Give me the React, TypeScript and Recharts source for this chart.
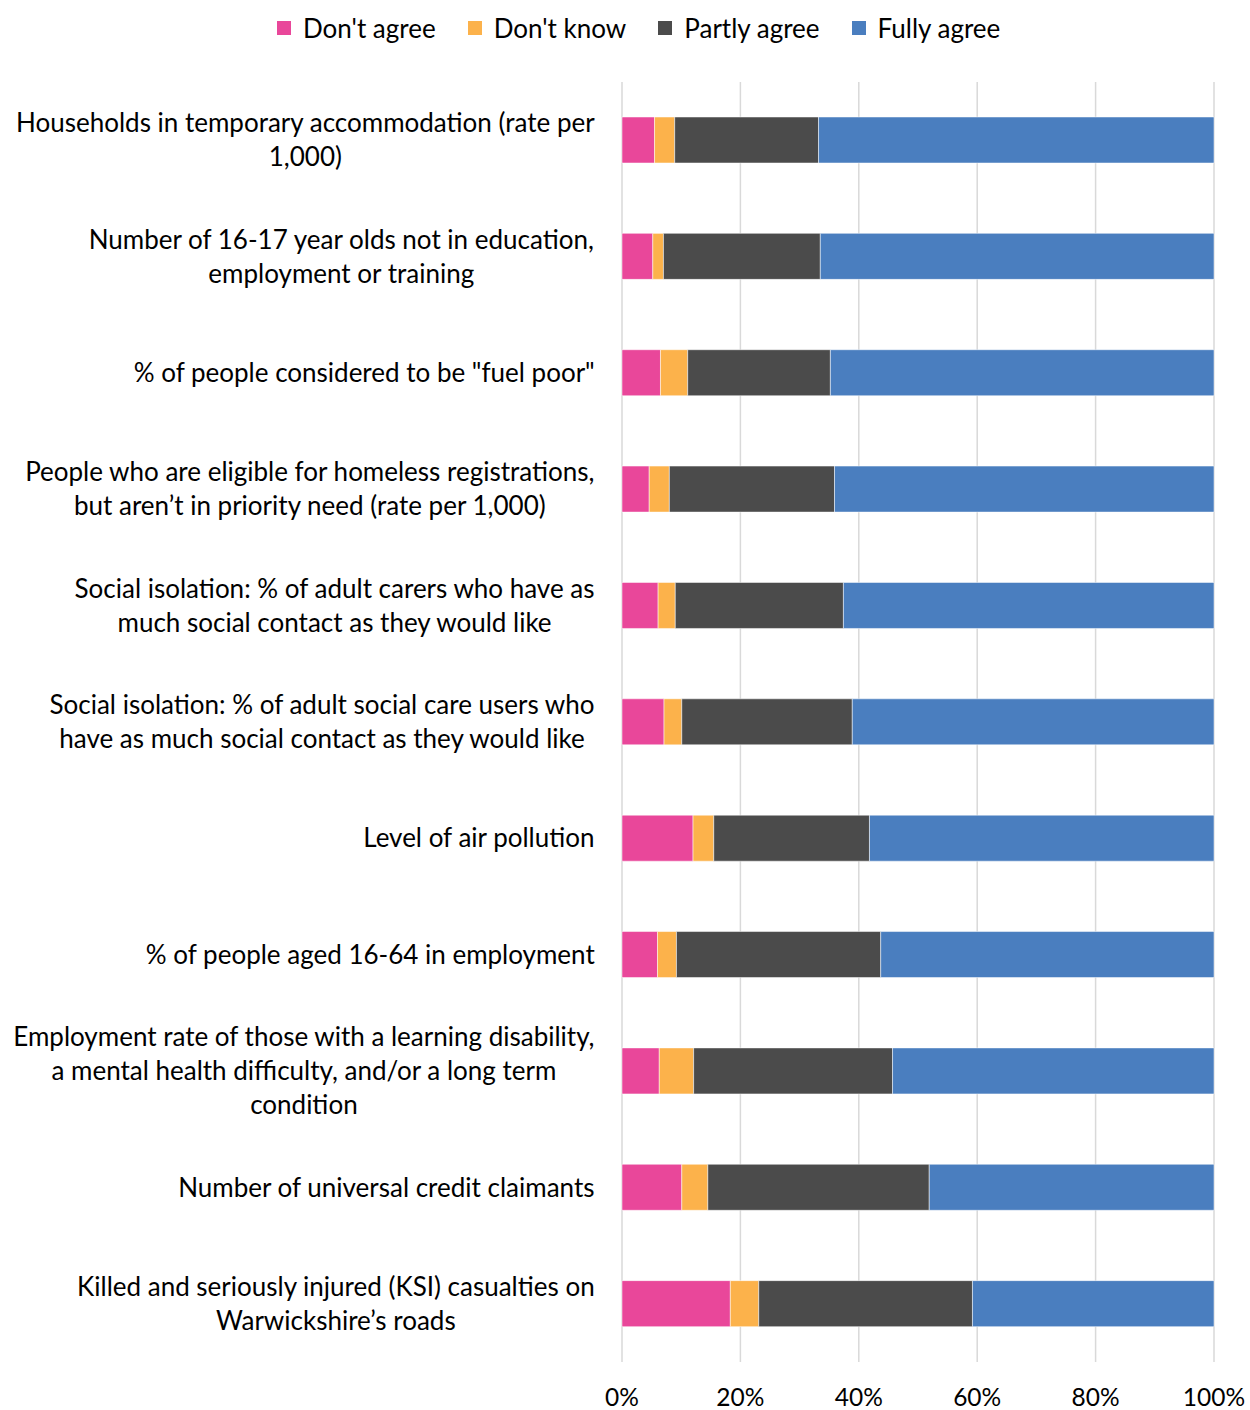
import React from 'react';
import { BarChart, Bar, XAxis, YAxis, CartesianGrid } from 'recharts';

const categories: string[] = [
  'Households in temporary accommodation (rate per\n1,000)',
  'Number of 16-17 year olds not in education,\nemployment or training',
  '% of people considered to be "fuel poor"',
  'People who are eligible for homeless registrations,\nbut aren’t in priority need (rate per 1,000)',
  'Social isolation: % of adult carers who have as\nmuch social contact as they would like',
  'Social isolation: % of adult social care users who\nhave as much social contact as they would like',
  'Level of air pollution',
  '% of people aged 16-64 in employment',
  'Employment rate of those with a learning disability,\na mental health difficulty, and/or a long term\ncondition',
  'Number of universal credit claimants',
  'Killed and seriously injured (KSI) casualties on\nWarwickshire’s roads',
];

const dontAgree: number[] = [5.5, 5.2, 6.5, 4.6, 6.1, 7.1, 12.0, 6.0, 6.3, 10.1, 18.3];
const dontKnow: number[] = [3.4, 1.8, 4.6, 3.4, 2.9, 3.0, 3.5, 3.2, 5.8, 4.4, 4.8];
const partlyAgree: number[] = [24.3, 26.5, 24.1, 27.9, 28.4, 28.8, 26.3, 34.5, 33.6, 37.4, 36.1];
const fullyAgree: number[] = [66.8, 66.5, 64.8, 64.1, 62.6, 61.1, 58.2, 56.3, 54.3, 48.1, 40.8];

const xTicks: number[] = [0, 20, 40, 60, 80, 100];

const seriesNames = ["Don't agree", "Don't know", 'Partly agree', 'Fully agree'];
const seriesKeys = ['dontAgree', 'dontKnow', 'partlyAgree', 'fullyAgree'];
const colors = ['#E9479A', '#FCB24B', '#4B4B4B', '#4A7EBF'];

const data = categories.map((c, i) => ({
  category: c,
  dontAgree: dontAgree[i],
  dontKnow: dontKnow[i],
  partlyAgree: partlyAgree[i],
  fullyAgree: fullyAgree[i],
}));

const FONT_FAMILY = 'Lato, "Noto Sans", sans-serif';
const FONT_SIZE = 26;
const X_FONT_SIZE = 24.5;

let ctx: CanvasRenderingContext2D | null = null;
function measure(s: string): number {
  if (!ctx && typeof document !== 'undefined') {
    ctx = document.createElement('canvas').getContext('2d');
  }
  if (!ctx) return s.length * FONT_SIZE * 0.5;
  ctx.font = `${FONT_SIZE}px ${FONT_FAMILY}`;
  return ctx.measureText(s).width;
}

const YTick = (props: any) => {
  const { x, y, payload } = props;
  const lines: string[] = String(payload.value).split('\n');
  const maxW = Math.max(...lines.map(measure));
  const cx = x - maxW / 2;
  const lh = 34;
  return (
    <g>
      {lines.map((l, i) => (
        <text
          key={i}
          x={cx}
          y={y + (i - (lines.length - 1) / 2) * lh}
          dy="0.35em"
          textAnchor="middle"
          fill="#000"
          fontSize={FONT_SIZE}
          fontFamily={FONT_FAMILY}
        >
          {l}
        </text>
      ))}
    </g>
  );
};

const XTick = (props: any) => {
  const { x, y, payload } = props;
  return (
    <text x={x} y={y + 35} dy="0.35em" textAnchor="middle" fill="#000" fontSize={X_FONT_SIZE} fontFamily={FONT_FAMILY}>
      {payload.value + '%'}
    </text>
  );
};

const Legend = () => (
  <div
    style={{
      position: 'absolute',
      left: 277,
      top: 12,
      display: 'flex',
      alignItems: 'center',
      fontFamily: FONT_FAMILY,
      fontSize: FONT_SIZE,
      lineHeight: '32px',
      color: '#000',
      whiteSpace: 'nowrap',
    }}
  >
    {seriesNames.map((n, i) => (
      <div key={n} style={{ display: 'flex', alignItems: 'center', marginRight: 32 }}>
        <span style={{ width: 14, height: 14, background: colors[i], display: 'inline-block', marginRight: 12 }} />
        <span>{n}</span>
      </div>
    ))}
  </div>
);

export default function App() {
  return (
    <div style={{ position: 'absolute', left: 0, top: 0, width: 1250, height: 1410, background: '#fff' }}>
      <Legend />
      <BarChart
        width={1250}
        height={1410}
        data={data}
        layout="vertical"
        margin={{ top: 82, right: 36, bottom: 0, left: 0 }}
        barSize={46}
      >
        <CartesianGrid horizontal={false} stroke="#D9D9D9" strokeWidth={1.5} />
        <XAxis
          type="number"
          domain={[0, 100]}
          ticks={xTicks}
          axisLine={false}
          tickLine={false}
          tickSize={0}
          tickMargin={0}
          height={48}
          tick={<XTick />}
          interval={0}
        />
        <YAxis
          type="category"
          dataKey="category"
          width={622}
          axisLine={false}
          tickLine={false}
          tickSize={0}
          tickMargin={27}
          tick={<YTick />}
          interval={0}
        />
        {seriesKeys.map((k, i) => (
          <Bar
            key={k}
            dataKey={k}
            name={seriesNames[i]}
            stackId="a"
            fill={colors[i]}
            stroke="#ffffff"
            strokeWidth={0.5}
            isAnimationActive={false}
          />
        ))}
      </BarChart>
    </div>
  );
}
